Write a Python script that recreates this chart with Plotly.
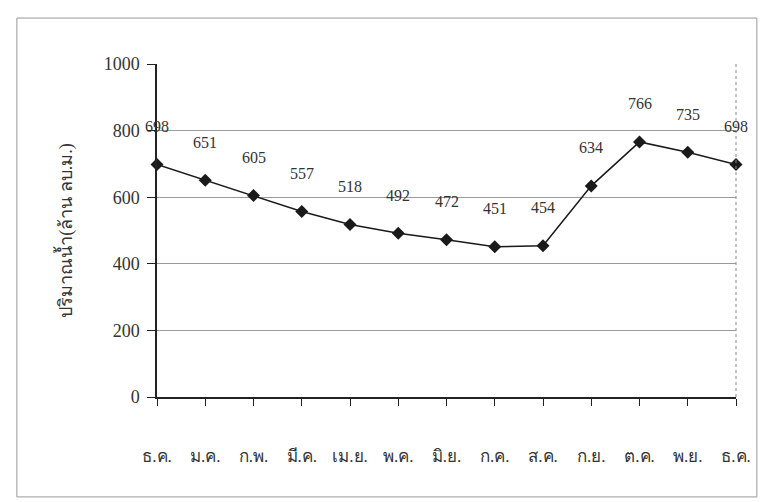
import plotly.graph_objects as go

# Monthly water volume (million cubic metres), December through December
months = ["ธ.ค.", "ม.ค.", "ก.พ.", "มี.ค.", "เม.ย.", "พ.ค.", "มิ.ย.",
          "ก.ค.", "ส.ค.", "ก.ย.", "ต.ค.", "พ.ย.", "ธ.ค."]
volume = [698, 651, 605, 557, 518, 492, 472, 451, 454, 634, 766, 735, 698]
y_ticks = [0, 200, 400, 600, 800, 1000]

x_pos = list(range(len(months)))
serif = "Liberation Serif"

fig = go.Figure()
fig.add_trace(go.Scatter(
    x=x_pos, y=volume, mode="lines+markers",
    line=dict(color="#1a1a1a", width=1.5),
    marker=dict(symbol="diamond", size=10, color="#1a1a1a"),
    cliponaxis=False, showlegend=False, hoverinfo="skip",
))

# value labels above each point
for xi, v in zip(x_pos, volume):
    fig.add_annotation(x=xi, y=v, text=str(v), showarrow=False,
                       yshift=38, font=dict(family=serif, size=16, color="#333"))

# outer chart frame
fig.add_shape(type="rect", xref="paper", yref="paper",
              x0=-0.242, x1=1.036, y0=-0.3, y1=1.138,
              line=dict(color="#999", width=1))

fig.update_layout(
    width=763, height=502,
    margin=dict(l=157, r=24, t=64, b=105),
    paper_bgcolor="white", plot_bgcolor="white",
    xaxis=dict(
        range=[0, 12], tickmode="array", tickvals=x_pos, ticktext=months,
        showgrid=False, zeroline=False,
        showline=True, linecolor="#222", linewidth=1.5,
        ticks="outside", ticklen=7, tickcolor="#222",
        ticklabelstandoff=36,
        tickfont=dict(family=serif, size=17, color="#333"),
    ),
    yaxis=dict(
        range=[0, 1000], tickvals=y_ticks,
        showgrid=True, gridcolor="#9a9a9a", gridwidth=1,
        zeroline=False,
        showline=True, linecolor="#222", linewidth=1.5,
        ticks="outside", ticklen=8, tickcolor="#222",
        ticklabelstandoff=4,
        tickfont=dict(family=serif, size=18, color="#333"),
        title=dict(text="ปริมาณน้ำ(ล้าน ลบ.ม.)", standoff=26,
                   font=dict(family=serif, size=18, color="#333")),
    ),
)

# dotted right edge of the plot area
fig.add_shape(type="line", xref="paper", yref="paper", x0=1, x1=1, y0=0, y1=1,
              line=dict(color="#888", width=1, dash="dot"))

fig.write_html("out.html")
